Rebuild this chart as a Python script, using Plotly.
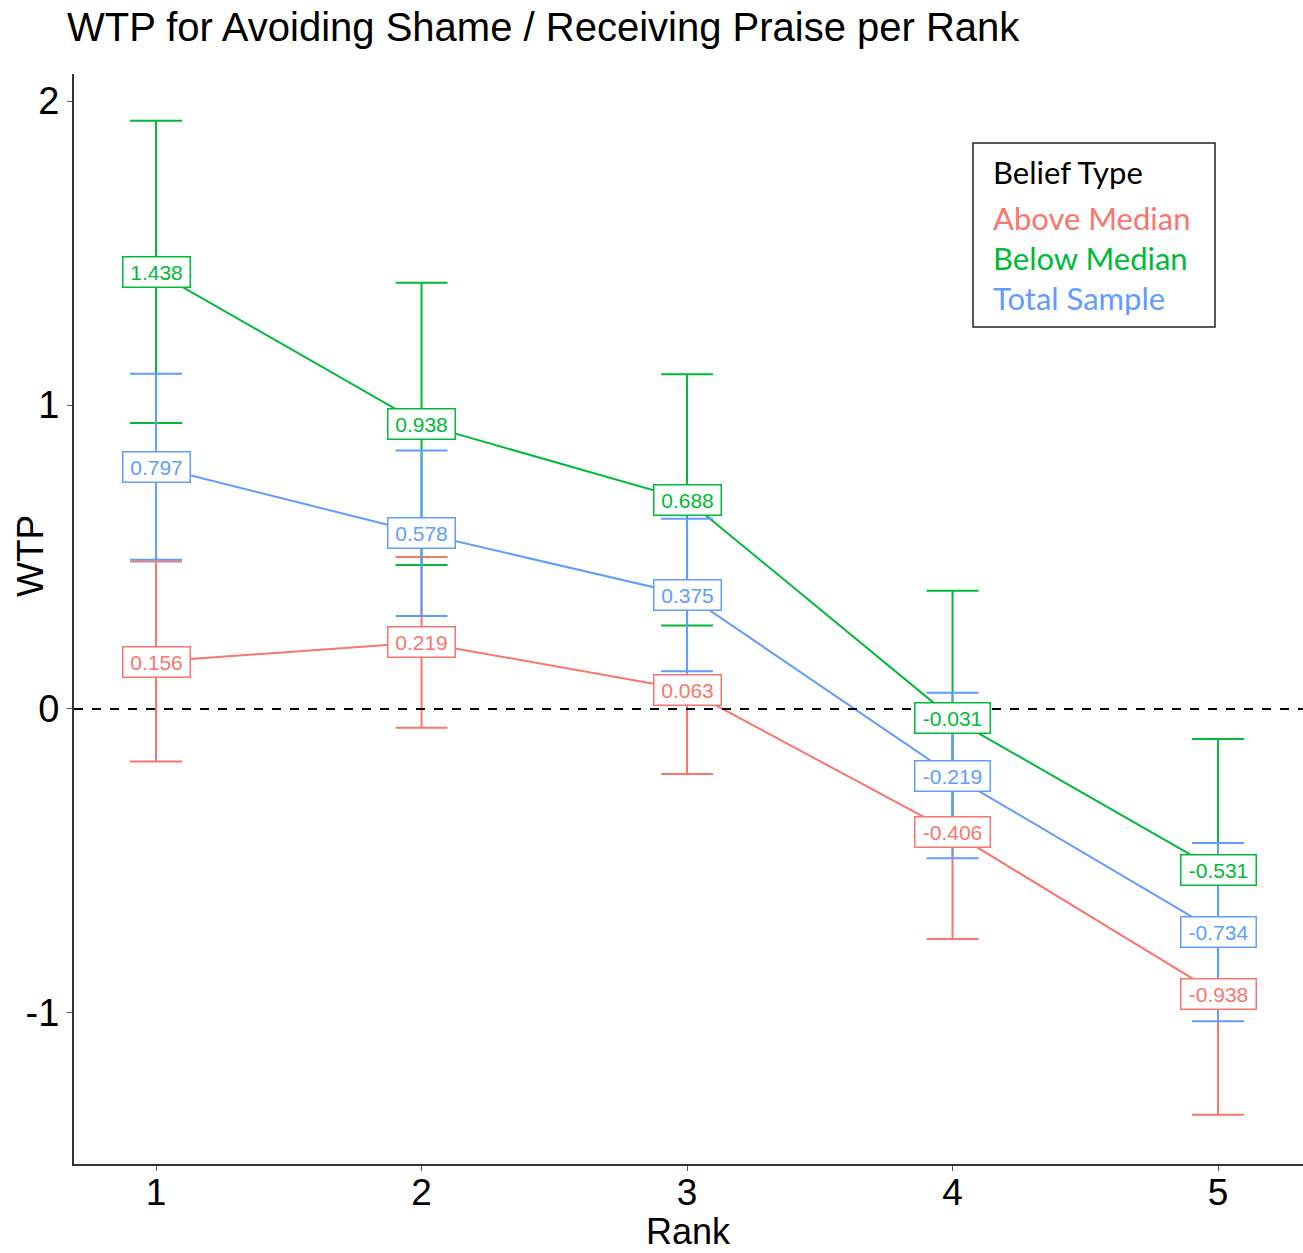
import plotly.graph_objects as go

ranks = [1, 2, 3, 4, 5]
groups = ["Above Median", "Below Median", "Total Sample"]
colors = {"Above Median": "#F8766D", "Below Median": "#00BA38", "Total Sample": "#619CFF"}

wtp_above = [0.156, 0.219, 0.063, -0.406, -0.938]
err_above = [0.329, 0.281, 0.277, 0.351, 0.397]
wtp_below = [1.438, 0.938, 0.688, -0.031, -0.531]
err_below = [0.497, 0.464, 0.413, 0.420, 0.432]
wtp_total = [0.797, 0.578, 0.375, -0.219, -0.734]
err_total = [0.306, 0.272, 0.251, 0.272, 0.293]

y_ticks = [-1, 0, 1, 2]
y_ticklabels = ["-1", "0", "1", "2"]

data = {
    "Above Median": (wtp_above, err_above),
    "Below Median": (wtp_below, err_below),
    "Total Sample": (wtp_total, err_total),
}

fig = go.Figure()
for g in groups:
    vals, errs = data[g]
    fig.add_trace(go.Scatter(
        x=ranks, y=vals, mode="lines", name=g,
        line=dict(color=colors[g], width=2),
        error_y=dict(type="data", array=errs, visible=True,
                     color=colors[g], thickness=2, width=26),
        showlegend=False,
    ))

for g in groups:
    vals, _ = data[g]
    for r, v in zip(ranks, vals):
        txt = f"{v:.3f}"
        fig.add_annotation(
            x=r, y=v, xref="x", yref="y", text=txt, showarrow=False,
            font=dict(family="Liberation Sans, Arial", size=21, color=colors[g]),
            bgcolor="white", bordercolor=colors[g], borderwidth=1.5, borderpad=2,
            width=8 * len(txt) + 22, height=25,
        )

# zero reference line
fig.add_shape(type="line", xref="paper", yref="y", x0=0, x1=1, y0=0, y1=0,
              line=dict(color="black", width=2, dash="dash"))

W, H = 1303, 1253
L, R, T, B = 74, 0, 74, 89
pw, ph = W - L - R, H - T - B
def px(x): return (x - L) / pw
def py(y): return 1 - (y - T) / ph

# legend box (manual, text-only legend)
fig.add_shape(type="rect", xref="paper", yref="paper",
              x0=px(973), x1=px(1215), y0=py(327), y1=py(143),
              line=dict(color="#222", width=1.5), fillcolor="white", layer="above")
fig.add_annotation(xref="paper", yref="paper", x=px(991), y=py(172), text="Belief Type",
                   showarrow=False, xanchor="left", yanchor="middle",
                   font=dict(family="Lato, Noto Sans", size=31, color="black"))
for i, g in enumerate(groups):
    fig.add_annotation(xref="paper", yref="paper", x=px(991), y=py(218 + 40 * i), text=g,
                       showarrow=False, xanchor="left", yanchor="middle",
                       font=dict(family="Lato, Noto Sans", size=31, color=colors[g]))

# axis titles
fig.add_annotation(xref="paper", yref="paper", x=px(688), y=py(1231), text="Rank",
                   showarrow=False, xanchor="center", yanchor="middle",
                   font=dict(family="Liberation Sans, Arial", size=36, color="black"))
fig.add_annotation(xref="paper", yref="paper", x=px(30), y=py(556), text="WTP",
                   showarrow=False, xanchor="center", yanchor="middle", textangle=-90,
                   font=dict(family="Liberation Sans, Arial", size=37, color="black"))

fig.update_layout(
    width=W, height=H,
    margin=dict(l=L, r=R, t=T, b=B, autoexpand=False),
    plot_bgcolor="white", paper_bgcolor="white",
    title=dict(text="WTP for Avoiding Shame / Receiving Praise per Rank",
               x=67 / W, xanchor="left", y=1 - 27 / H, yanchor="middle",
               font=dict(family="Liberation Sans, Arial", size=40, color="black")),
    font=dict(family="Liberation Sans, Arial", color="black"),
)
fig.update_xaxes(
    range=[0.691, 5.32], tickvals=ranks, ticktext=[str(r) for r in ranks],
    showgrid=False, zeroline=False, showline=True, linecolor="#333", linewidth=2,
    ticks="outside", ticklen=5, tickcolor="#555", tickwidth=1,
    tickfont=dict(size=37, color="black"), automargin=False, ticklabelstandoff=-10,
)
fig.update_yaxes(
    range=[-1.497, 2.089], tickvals=y_ticks, ticktext=y_ticklabels,
    showgrid=False, zeroline=False, showline=True, linecolor="#333", linewidth=2,
    ticks="outside", ticklen=5, tickcolor="#555", tickwidth=1,
    tickfont=dict(size=38, color="black"), automargin=False,
)

fig.write_html("out.html", config={"displayModeBar": False},
               post_script="document.body.style.margin='0px';document.body.style.overflow='hidden';")
